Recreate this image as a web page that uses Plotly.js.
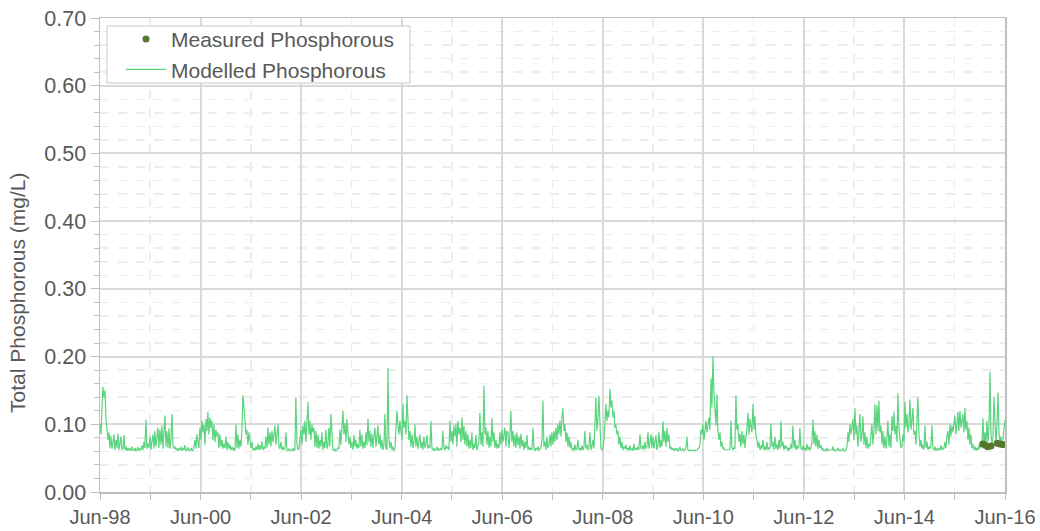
<!DOCTYPE html>
<html>
<head>
<meta charset="utf-8">
<script src="https://cdn.plot.ly/plotly-3.0.1.min.js"></script>
<style>html,body{margin:0;padding:0;background:#fff;}#chart{width:1040px;height:531px;}</style>
</head>
<body>
<div id="chart"></div>
<script>
// Modelled total phosphorous (mg/L), evenly spaced from Jun-98 to Jun-16
const seriesStart = '1998-06-01';
const seriesEnd = '2016-06-01';
const m1998 = [0.100,0.085,0.120,0.155,0.140,0.150,0.110,0.095,0.077,0.088,0.065,0.083,0.064,0.074,0.085,0.062,0.077,0.065,0.086,0.062,0.070,0.082,0.062,0.065,0.084,0.062,0.067,0.061,0.065,0.062,0.064,0.061,0.067,0.062,0.061,0.065,0.061,0.062,0.066,0.061,0.064,0.062,0.069,0.062,0.074,0.065,0.107,0.064,0.071,0.065];
const m1999 = [0.082,0.062,0.074,0.085,0.064,0.090,0.067,0.083,0.095,0.065,0.092,0.070,0.098,0.064,0.088,0.113,0.067,0.090,0.065,0.094,0.064,0.077,0.115,0.070,0.064,0.067,0.062,0.065,0.061,0.064,0.062,0.067,0.061,0.065,0.062,0.069,0.061,0.062,0.066,0.061,0.062,0.065,0.061,0.062,0.067,0.077,0.064,0.085,0.074,0.065];
const m2000 = [0.095,0.077,0.105,0.088,0.100,0.070,0.108,0.090,0.118,0.085,0.110,0.095,0.105,0.077,0.100,0.074,0.092,0.082,0.088,0.065,0.085,0.067,0.077,0.064,0.071,0.065,0.082,0.062,0.074,0.064,0.070,0.062,0.067,0.062,0.065,0.061,0.100,0.065,0.085,0.064,0.077,0.067,0.090,0.143,0.125,0.095,0.085,0.092,0.070,0.088];
const m2001 = [0.077,0.065,0.074,0.062,0.065,0.061,0.067,0.062,0.071,0.062,0.069,0.063,0.075,0.062,0.067,0.064,0.082,0.065,0.095,0.070,0.088,0.067,0.090,0.074,0.085,0.098,0.070,0.088,0.100,0.067,0.064,0.074,0.062,0.067,0.062,0.065,0.088,0.062,0.061,0.064,0.061,0.062,0.061,0.065,0.061,0.062,0.140,0.070,0.062,0.064];
const m2002 = [0.077,0.092,0.070,0.098,0.085,0.105,0.074,0.095,0.133,0.085,0.105,0.077,0.100,0.088,0.095,0.067,0.090,0.065,0.085,0.064,0.077,0.067,0.088,0.062,0.074,0.065,0.092,0.064,0.070,0.095,0.067,0.115,0.077,0.062,0.061,0.064,0.061,0.062,0.065,0.064,0.092,0.070,0.098,0.120,0.085,0.102,0.074,0.108,0.088,0.070];
const m2003 = [0.082,0.065,0.074,0.062,0.084,0.067,0.077,0.064,0.071,0.065,0.092,0.067,0.085,0.064,0.074,0.065,0.088,0.069,0.108,0.074,0.090,0.067,0.086,0.065,0.082,0.095,0.067,0.090,0.098,0.070,0.085,0.064,0.077,0.062,0.070,0.115,0.065,0.062,0.183,0.077,0.065,0.074,0.062,0.067,0.061,0.064,0.085,0.120,0.098,0.085];
const m2004 = [0.105,0.090,0.077,0.130,0.095,0.105,0.085,0.143,0.100,0.077,0.090,0.067,0.085,0.065,0.074,0.100,0.067,0.082,0.064,0.077,0.085,0.065,0.074,0.062,0.082,0.065,0.071,0.084,0.064,0.069,0.065,0.105,0.064,0.062,0.065,0.061,0.062,0.067,0.061,0.064,0.062,0.065,0.062,0.090,0.065,0.062,0.069,0.064,0.067,0.062];
const m2005 = [0.105,0.074,0.090,0.070,0.098,0.082,0.100,0.067,0.105,0.085,0.095,0.074,0.110,0.077,0.098,0.070,0.090,0.067,0.085,0.064,0.077,0.065,0.088,0.062,0.071,0.065,0.084,0.062,0.067,0.074,0.117,0.070,0.088,0.067,0.157,0.085,0.095,0.070,0.090,0.065,0.082,0.067,0.109,0.074,0.088,0.065,0.077,0.064,0.071,0.065];
const m2006 = [0.088,0.070,0.092,0.074,0.085,0.095,0.067,0.090,0.088,0.065,0.082,0.120,0.074,0.090,0.067,0.085,0.065,0.088,0.069,0.082,0.064,0.086,0.067,0.077,0.062,0.074,0.065,0.084,0.062,0.067,0.062,0.065,0.062,0.095,0.064,0.061,0.065,0.062,0.067,0.061,0.064,0.065,0.077,0.135,0.067,0.074,0.062,0.082,0.065,0.071];
const m2007 = [0.085,0.067,0.088,0.070,0.090,0.074,0.095,0.077,0.100,0.085,0.105,0.082,0.110,0.124,0.090,0.100,0.074,0.088,0.067,0.082,0.065,0.074,0.062,0.065,0.061,0.070,0.062,0.064,0.077,0.062,0.065,0.061,0.069,0.062,0.067,0.090,0.064,0.070,0.062,0.065,0.088,0.062,0.067,0.077,0.064,0.095,0.140,0.090,0.110,0.142,0.095];
const m2008 = [0.065,0.062,0.064,0.077,0.100,0.130,0.105,0.120,0.110,0.152,0.125,0.135,0.110,0.120,0.095,0.100,0.085,0.090,0.070,0.082,0.065,0.074,0.062,0.067,0.064,0.070,0.062,0.065,0.061,0.069,0.062,0.064,0.061,0.071,0.062,0.065,0.062,0.067,0.062,0.085,0.064,0.065,0.069,0.062,0.074,0.064,0.067,0.088,0.064,0.071];
const m2009 = [0.085,0.065,0.082,0.064,0.074,0.084,0.062,0.069,0.088,0.065,0.077,0.067,0.104,0.074,0.090,0.067,0.095,0.074,0.085,0.064,0.067,0.062,0.065,0.061,0.064,0.062,0.065,0.061,0.062,0.067,0.061,0.062,0.064,0.061,0.062,0.065,0.082,0.062,0.061,0.062,0.061,0.062,0.061,0.062,0.061,0.062,0.062,0.064,0.065,0.070];
const m2010 = [0.092,0.085,0.100,0.077,0.095,0.105,0.088,0.100,0.110,0.092,0.168,0.125,0.200,0.150,0.115,0.098,0.144,0.090,0.077,0.088,0.067,0.074,0.064,0.065,0.062,0.062,0.061,0.062,0.062,0.064,0.105,0.067,0.062,0.065,0.064,0.143,0.092,0.100,0.074,0.086,0.067,0.090,0.071,0.085,0.065,0.082,0.092,0.117,0.085,0.108];
const m2011 = [0.095,0.088,0.130,0.092,0.112,0.085,0.077,0.065,0.074,0.062,0.069,0.064,0.077,0.062,0.067,0.062,0.074,0.062,0.065,0.064,0.100,0.067,0.074,0.062,0.082,0.064,0.070,0.062,0.077,0.064,0.105,0.067,0.074,0.062,0.069,0.064,0.067,0.061,0.065,0.062,0.071,0.064,0.098,0.065,0.077,0.062,0.069,0.064,0.067,0.095];
const m2012 = [0.065,0.062,0.069,0.062,0.065,0.061,0.071,0.062,0.067,0.062,0.065,0.074,0.107,0.070,0.090,0.067,0.085,0.064,0.077,0.065,0.069,0.062,0.064,0.061,0.062,0.061,0.065,0.061,0.062,0.062,0.061,0.062,0.067,0.061,0.062,0.061,0.062,0.065,0.061,0.062,0.061,0.062,0.064,0.061,0.062,0.062,0.067,0.088,0.074,0.100,0.085];
const m2013 = [0.095,0.108,0.077,0.124,0.085,0.098,0.067,0.090,0.115,0.074,0.085,0.112,0.070,0.088,0.065,0.082,0.064,0.071,0.067,0.085,0.100,0.070,0.092,0.130,0.085,0.128,0.090,0.135,0.088,0.098,0.070,0.090,0.065,0.082,0.064,0.077,0.105,0.067,0.085,0.065,0.112,0.090,0.118,0.085,0.098,0.074,0.146,0.095,0.070,0.065];
const m2014 = [0.067,0.085,0.074,0.133,0.095,0.115,0.088,0.100,0.137,0.092,0.105,0.124,0.085,0.090,0.070,0.098,0.140,0.085,0.067,0.077,0.064,0.070,0.062,0.098,0.065,0.074,0.062,0.067,0.064,0.070,0.098,0.065,0.062,0.067,0.061,0.064,0.062,0.065,0.062,0.069,0.062,0.065,0.064,0.074,0.065,0.082,0.090,0.070,0.100,0.082,0.098];
const m2015 = [0.088,0.105,0.113,0.085,0.100,0.118,0.090,0.120,0.095,0.108,0.115,0.088,0.124,0.092,0.105,0.077,0.095,0.070,0.085,0.065,0.071,0.062,0.067,0.061,0.065,0.062,0.069,0.064,0.074,0.067,0.109,0.070,0.088,0.067,0.105,0.074,0.092,0.178,0.088,0.070,0.077,0.141,0.085,0.071,0.095,0.147,0.088,0.074,0.082,0.067,0.077,0.090,0.107];

// Measured total phosphorous samples
const measuredDates = ['2015-12-22','2016-01-10','2016-01-28','2016-02-20','2016-04-05','2016-04-25','2016-05-15'];
const measuredValues = [0.071,0.069,0.067,0.068,0.072,0.071,0.070];

const yTickVals = [0,0.1,0.2,0.3,0.4,0.5,0.6,0.7];
const yTickText = ['0.00','0.10','0.20','0.30','0.40','0.50','0.60','0.70'];
const yTitle = 'Total Phosphorous (mg/L)';

const modelled = [].concat(m1998,m1999,m2000,m2001,m2002,m2003,m2004,m2005,m2006,m2007,m2008,m2009,m2010,m2011,m2012,m2013,m2014,m2015);
const t0 = Date.parse(seriesStart + 'T00:00:00Z');
const t1 = Date.parse(seriesEnd + 'T00:00:00Z');
const step = (t1 - t0) / (modelled.length - 1);
const modelledDates = modelled.map((v, i) => new Date(t0 + i * step).toISOString().slice(0, 10));

const txt = '#595959';
const fam = 'Liberation Sans, Arial, sans-serif';

const traces = [
  {
    type: 'scatter', mode: 'lines', name: 'Modelled Phosphorous',
    x: modelledDates, y: modelled,
    line: {color: '#5ad47d', width: 1.2},
    legendrank: 2
  },
  {
    type: 'scatter', mode: 'markers', name: 'Measured Phosphorous',
    x: measuredDates, y: measuredValues,
    marker: {color: '#55782c', size: 7},
    legendrank: 1
  }
];

const layout = {
  width: 1040, height: 531,
  margin: {l: 100, r: 35, t: 18, b: 39, pad: 0},
  paper_bgcolor: '#ffffff', plot_bgcolor: '#ffffff',
  font: {family: fam, size: 20, color: txt},
  showlegend: true,
  legend: {
    x: 0.0232, y: 0.998, xanchor: 'left', yanchor: 'top',
    bgcolor: 'rgba(0,0,0,0)', borderwidth: 0,
    font: {family: fam, size: 21, color: txt},
    itemwidth: 40, tracegroupgap: 0
  },
  shapes: [{
    type: 'rect', xref: 'paper', yref: 'paper', layer: 'above',
    x0: 0.0077, x1: 0.3425, y0: 0.8629, y1: 0.9831,
    fillcolor: '#ffffff', line: {color: '#c8c8c8', width: 1}
  }],
  annotations: [{
    text: yTitle, xref: 'paper', yref: 'paper', x: -0.0906, y: 0.42,
    xanchor: 'center', yanchor: 'middle', textangle: -90, showarrow: false,
    font: {family: fam, size: 21, color: txt}
  }],
  xaxis: {
    type: 'date',
    range: [seriesStart, seriesEnd],
    tick0: seriesStart, dtick: 'M24', tickformat: '%b-%y',
    ticks: 'outside', ticklen: 6, tickcolor: '#bfbfbf', tickwidth: 1,
    showgrid: true, gridcolor: '#d9d9d9', gridwidth: 2,
    showline: true, linecolor: '#bfbfbf', linewidth: 1.5, mirror: true,
    zeroline: false,
    tickfont: {family: fam, size: 20, color: txt},
    minor: {tick0: seriesStart, dtick: 'M12', ticks: 'outside', ticklen: 6, tickcolor: '#bfbfbf', showgrid: true, gridcolor: '#ededed', gridwidth: 1.5, griddash: 'dash'},
    fixedrange: true
  },
  yaxis: {
    range: [0, 0.7],
    tickvals: yTickVals, ticktext: yTickText,
    ticks: 'outside', ticklen: 8, tickcolor: '#bfbfbf', tickwidth: 1,
    showgrid: true, gridcolor: '#d9d9d9', gridwidth: 2,
    showline: true, linecolor: '#bfbfbf', linewidth: 1.5, mirror: true,
    zeroline: false,
    tickfont: {family: fam, size: 21.5, color: txt},
    minor: {dtick: 0.02, ticks: 'outside', ticklen: 5, tickcolor: '#bfbfbf', showgrid: true, gridcolor: '#ededed', gridwidth: 1.5, griddash: 'dash'},
    fixedrange: true
  }
};

Plotly.newPlot('chart', traces, layout, {displayModeBar: false, staticPlot: true});
</script>
</body>
</html>
